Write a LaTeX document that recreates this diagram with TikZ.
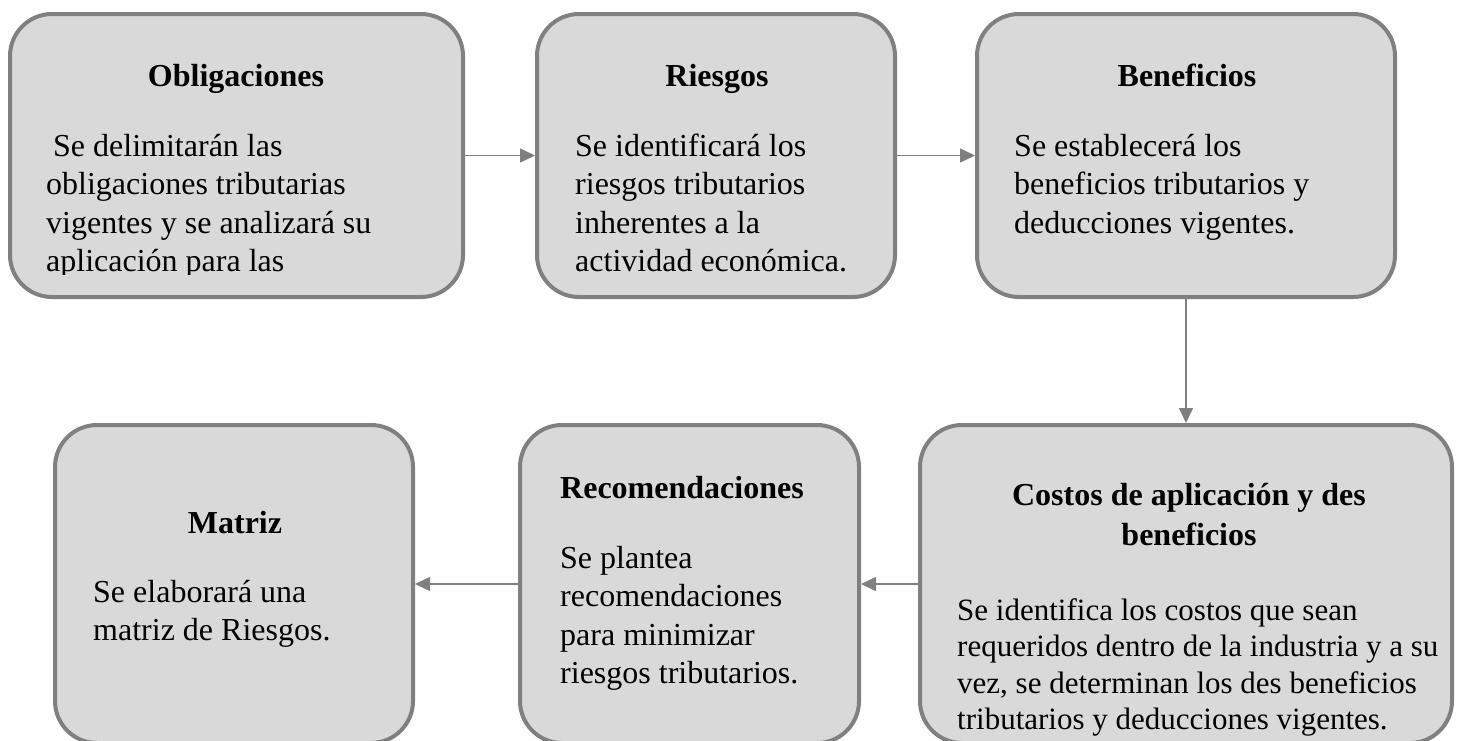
\documentclass[tikz,border=0pt]{standalone}
\usepackage{fontspec}
\setmainfont{Liberation Serif}
\usetikzlibrary{arrows.meta}
\definecolor{boxfill}{HTML}{D9D9D9}
\definecolor{boxline}{HTML}{808080}
\tikzset{
  stagebox/.style={draw=boxline, line width=4pt, fill=boxfill, rounded corners=42pt, inner sep=0pt},
  flow/.style={draw=boxline, line width=1.5pt, -{Triangle[length=15pt,width=14pt]}},
  ttl/.style={font=\fontsize{32}{38.5}\selectfont\bfseries, inner sep=0pt, anchor=base},
  txt/.style={font=\fontsize{32}{38.5}\selectfont, inner sep=0pt, anchor=base west},
  txtsm/.style={font=\fontsize{31}{36.5}\selectfont, inner sep=0pt, anchor=base west},
}
\begin{document}
\begin{tikzpicture}[x=1pt,y=-1pt]
\clip (0,0) rectangle (1460,740);
% boxes
\node[stagebox, minimum width=453pt, minimum height=283pt] (b1) at (236.5,155.5) {};
\node[stagebox, minimum width=358pt, minimum height=283pt] (b2) at (716,155.5) {};
\node[stagebox, minimum width=418pt, minimum height=283pt] (b3) at (1186,155.5) {};
\node[stagebox, minimum width=532pt, minimum height=318pt] (b4) at (1186,584) {};
\node[stagebox, minimum width=339pt, minimum height=318pt] (b5) at (689.5,584) {};
\node[stagebox, minimum width=358pt, minimum height=318pt] (b6) at (234,584) {};
% connectors
\draw[flow] (b1) -- (b2);
\draw[flow] (b2) -- (b3);
\draw[flow] (b3) -- (b4);
\draw[flow] (b4) -- (b5);
\draw[flow] (b5) -- (b6);
% texts box 1 and 2 (clipped)
\begin{scope}
\clip (0,0) rectangle (1460,274);
\node[ttl] (t1) at (236,86) {Obligaciones};
\node[txt] (l11) at (53,156) {Se delimitarán las};
\node[txt] (l12) at (46,194.5) {obligaciones tributarias};
\node[txt] (l13) at (46,233) {vigentes y se analizará su};
\node[txt] (l14) at (46,271.5) {aplicación para las};
\node[ttl] (t2) at (717,86) {Riesgos};
\node[txt] (l21) at (575,156) {Se identificará los};
\node[txt] (l22) at (575,194.5) {riesgos tributarios};
\node[txt] (l23) at (575,233) {inherentes a la};
\node[txt] (l24) at (575,271.5) {actividad económica.};
\end{scope}
% box 3
\node[ttl] (t3) at (1187,86) {Beneficios};
\node[txt] (l31) at (1014,156) {Se establecerá los};
\node[txt] (l32) at (1014,194.5) {beneficios tributarios y};
\node[txt] (l33) at (1014,233) {deducciones vigentes.};
% box 4
\node[ttl] (t4a) at (1189,505) {Costos de aplicación y des};
\node[ttl] (t4b) at (1189,545) {beneficios};
\node[txtsm] (l41) at (957,620) {Se identifica los costos que sean};
\node[txtsm] (l42) at (957,656.5) {requeridos dentro de la industria y a su};
\node[txtsm] (l43) at (957,693) {vez, se determinan los des beneficios};
\node[txtsm] (l44) at (957,729.5) {tributarios y deducciones vigentes.};
% box 5
\node[ttl, anchor=base west] (t5) at (560,498) {Recomendaciones};
\node[txt] (l51) at (560,568) {Se plantea};
\node[txt] (l52) at (560,606.5) {recomendaciones};
\node[txt] (l53) at (560,645) {para minimizar};
\node[txt] (l54) at (560,683.5) {riesgos tributarios.};
% box 6
\node[ttl] (t6) at (235,533) {Matriz};
\node[txt] (l61) at (93,602) {Se elaborará una};
\node[txt] (l62) at (93,640.5) {matriz de Riesgos.};
\end{tikzpicture}
\end{document}
